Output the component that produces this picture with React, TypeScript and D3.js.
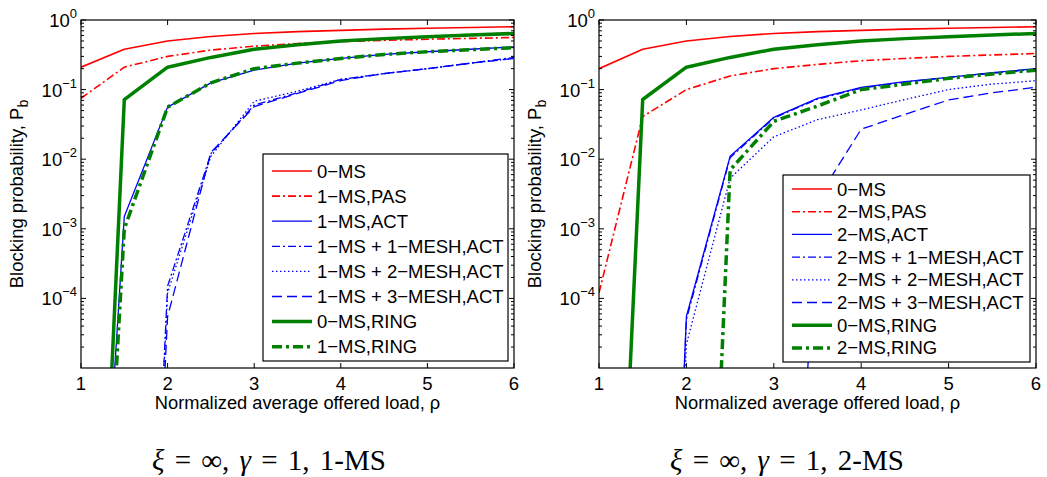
import React from "react";
import * as d3 from "d3";

// offered load (x) samples
const loads = [1, 1.5, 2, 2.5, 3, 3.5, 4, 4.5, 5, 5.5, 6];

// left panel: 1-MS
const leftZeroMS = [0.21, 0.38, 0.5, 0.58, 0.64, 0.68, 0.71, 0.74, 0.76, 0.78, 0.8];
const leftPAS = [0.075, 0.21, 0.3, 0.37, 0.42, 0.46, 0.49, 0.51, 0.53, 0.545, 0.56];
const leftACT = [2e-13, 1.5e-3, 0.056, 0.125, 0.19, 0.24, 0.28, 0.32, 0.35, 0.38, 0.41];
const leftMesh1 = [1e-30, 1e-17, 1.5e-4, 0.012, 0.06, 0.09, 0.14, 0.17, 0.2, 0.24, 0.29];
const leftMesh2 = [1e-30, 1e-17, 1.2e-4, 0.011, 0.068, 0.095, 0.14, 0.17, 0.2, 0.24, 0.28];
const leftMesh3 = [1e-30, 1e-17, 5.5e-5, 0.0125, 0.057, 0.088, 0.135, 0.17, 0.2, 0.24, 0.28];
const leftRing0 = [2.5e-15, 0.072, 0.21, 0.29, 0.38, 0.44, 0.5, 0.54, 0.575, 0.61, 0.64];
const leftRing1 = [1e-14, 1.0e-3, 0.056, 0.125, 0.2, 0.24, 0.28, 0.32, 0.35, 0.375, 0.4];

// right panel: 2-MS
const rightZeroMS = [0.2, 0.38, 0.5, 0.58, 0.64, 0.68, 0.71, 0.74, 0.76, 0.78, 0.8];
const rightPAS = [1.2e-4, 0.041, 0.1, 0.157, 0.2, 0.23, 0.26, 0.28, 0.3, 0.315, 0.33];
const rightACT = [1e-35, 1e-19, 5.5e-5, 0.011, 0.04, 0.075, 0.108, 0.13, 0.15, 0.175, 0.2];
const rightMesh1 = [1e-35, 1e-19, 5e-5, 0.0105, 0.039, 0.073, 0.105, 0.128, 0.15, 0.172, 0.195];
const rightMesh2 = [1e-35, 1e-20, 2.2e-5, 0.0053, 0.021, 0.037, 0.051, 0.072, 0.1, 0.12, 0.134];
const rightMesh3 = [1e-40, 1e-35, 1e-25, 1e-18, 3e-14, 2.7e-3, 0.027, 0.044, 0.071, 0.09, 0.108];
const rightRing0 = [2.5e-15, 0.072, 0.21, 0.29, 0.38, 0.44, 0.5, 0.54, 0.575, 0.61, 0.64];
const rightRing2 = [1e-30, 1e-25, 4e-17, 0.007, 0.035, 0.058, 0.1, 0.12, 0.145, 0.168, 0.19];

const leftLabels = [
  "0\u2212MS",
  "1\u2212MS,PAS",
  "1\u2212MS,ACT",
  "1\u2212MS + 1\u2212MESH,ACT",
  "1\u2212MS + 2\u2212MESH,ACT",
  "1\u2212MS + 3\u2212MESH,ACT",
  "0\u2212MS,RING",
  "1\u2212MS,RING",
];
const rightLabels = [
  "0\u2212MS",
  "2\u2212MS,PAS",
  "2\u2212MS,ACT",
  "2\u2212MS + 1\u2212MESH,ACT",
  "2\u2212MS + 2\u2212MESH,ACT",
  "2\u2212MS + 3\u2212MESH,ACT",
  "0\u2212MS,RING",
  "2\u2212MS,RING",
];

const xTicks = [1, 2, 3, 4, 5, 6];
const yExponents = [0, -1, -2, -3, -4];

// line styles, same order in both panels
const styles = [
  { color: "#ff0000", width: 1.6, dash: "" },
  { color: "#ff0000", width: 1.6, dash: "8,3,2,3" },
  { color: "#0000ff", width: 1.3, dash: "" },
  { color: "#0000ff", width: 1.3, dash: "8,3,2,3" },
  { color: "#0000ff", width: 1.3, dash: "1.5,2.5" },
  { color: "#0000ff", width: 1.3, dash: "10,5" },
  { color: "#008000", width: 3.5, dash: "" },
  { color: "#008000", width: 3.5, dash: "10,4,3,4" },
];

const top = 20;
const bottom = 368;
const font = "'Liberation Sans', Arial, sans-serif";

function Panel({ id, x0, x1, series, labels, legend, caption, captionX }) {
  const x = d3.scaleLinear().domain([1, 6]).range([x0, x1]);
  const y = d3.scaleLog().domain([1e-5, 1]).range([bottom, top]);
  const line = d3
    .line<number>()
    .x((_, i) => x(loads[i]))
    .y((v) => y(v));

  const minor: number[] = [];
  for (let e = -5; e < 0; e++) for (let m = 2; m <= 9; m++) minor.push(m * Math.pow(10, e));

  return (
    <g>
      <defs>
        <clipPath id={id}>
          <rect x={x0} y={top} width={x1 - x0} height={bottom - top} />
        </clipPath>
      </defs>
      <rect x={x0} y={top} width={x1 - x0} height={bottom - top} fill="#fff" />

      {/* curves */}
      <g clipPath={`url(#${id})`}>
        {series.map((s, i) => (
          <path
            key={i}
            d={line(s) ?? ""}
            fill="none"
            stroke={styles[i].color}
            strokeWidth={styles[i].width}
            strokeDasharray={styles[i].dash}
            strokeLinejoin="round"
          />
        ))}
      </g>

      {/* ticks */}
      <g stroke="#000" strokeWidth={1}>
        {xTicks.map((t) => (
          <g key={t}>
            <line x1={x(t)} x2={x(t)} y1={bottom} y2={bottom - 5} />
            <line x1={x(t)} x2={x(t)} y1={top} y2={top + 5} />
          </g>
        ))}
        {yExponents.map((e) => (
          <g key={e}>
            <line x1={x0} x2={x0 + 5} y1={y(Math.pow(10, e))} y2={y(Math.pow(10, e))} />
            <line x1={x1} x2={x1 - 5} y1={y(Math.pow(10, e))} y2={y(Math.pow(10, e))} />
          </g>
        ))}
        {minor.map((m, i) => (
          <g key={i}>
            <line x1={x0} x2={x0 + 3} y1={y(m)} y2={y(m)} />
            <line x1={x1} x2={x1 - 3} y1={y(m)} y2={y(m)} />
          </g>
        ))}
      </g>
      <rect x={x0} y={top} width={x1 - x0} height={bottom - top} fill="none" stroke="#000" strokeWidth={1.2} />

      {/* tick labels */}
      <g fontFamily={font} fill="#000">
        {xTicks.map((t) => (
          <text key={t} x={x(t)} y={bottom + 22} textAnchor="middle" fontSize={18.5}>
            {t}
          </text>
        ))}
        {yExponents.map((e) => (
          <text key={e} x={x0 - 4} y={y(Math.pow(10, e)) + 7} textAnchor="end" fontSize={18.5}>
            10
            <tspan dy={-9} fontSize={13}>
              {e === 0 ? "0" : "\u2212" + Math.abs(e)}
            </tspan>
          </text>
        ))}
        <text x={(x0 + x1) / 2} y={bottom + 41} textAnchor="middle" fontSize={18.3}>
          Normalized average offered load, ρ
        </text>
        <text
          transform={`translate(${x0 - 58},${(top + bottom) / 2}) rotate(-90)`}
          textAnchor="middle"
          fontSize={18.5}
        >
          Blocking probability, P
          <tspan dy={5} fontSize={14}>
            b
          </tspan>
        </text>
      </g>

      {/* legend */}
      <g fontFamily={font}>
        <rect x={legend.x} y={legend.y} width={legend.w} height={legend.h} fill="#fff" stroke="#000" strokeWidth={1.2} />
        {labels.map((lab, i) => {
          const ry = legend.first + i * legend.step;
          return (
            <g key={i}>
              <line
                x1={legend.x + 9}
                x2={legend.x + 49}
                y1={ry}
                y2={ry}
                stroke={styles[i].color}
                strokeWidth={styles[i].width}
                strokeDasharray={styles[i].dash}
              />
              <text x={legend.x + 54} y={ry + 6.5} fontSize={18.5}>
                {lab}
              </text>
            </g>
          );
        })}
      </g>

      {/* caption */}
      <text
        x={captionX}
        y={470}
        textAnchor="middle"
        fontFamily="'Liberation Serif', 'Times New Roman', serif"
        fontSize={29}
        wordSpacing={3}
      >
        <tspan fontStyle="italic">ξ</tspan>
        {" = ∞, "}
        <tspan fontStyle="italic">γ</tspan>
        {" = 1, " + caption}
      </text>
    </g>
  );
}

export default function App() {
  return (
    <svg
      width={1047}
      height={477}
      style={{ position: "absolute", left: 0, top: 0, background: "#fff" }}
    >
      <rect width={1047} height={477} fill="#fff" />
      <Panel
        id="clipL"
        x0={81}
        x1={514}
        series={[leftZeroMS, leftPAS, leftACT, leftMesh1, leftMesh2, leftMesh3, leftRing0, leftRing1]}
        labels={leftLabels}
        legend={{ x: 263, y: 154, w: 245, h: 207, first: 171, step: 25.1 }}
        caption="1-MS"
        captionX={269}
      />
      <Panel
        id="clipR"
        x0={599}
        x1={1036}
        series={[rightZeroMS, rightPAS, rightACT, rightMesh1, rightMesh2, rightMesh3, rightRing0, rightRing2]}
        labels={rightLabels}
        legend={{ x: 783, y: 175, w: 247, h: 187, first: 189, step: 22.7 }}
        caption="2-MS"
        captionX={787}
      />
    </svg>
  );
}
